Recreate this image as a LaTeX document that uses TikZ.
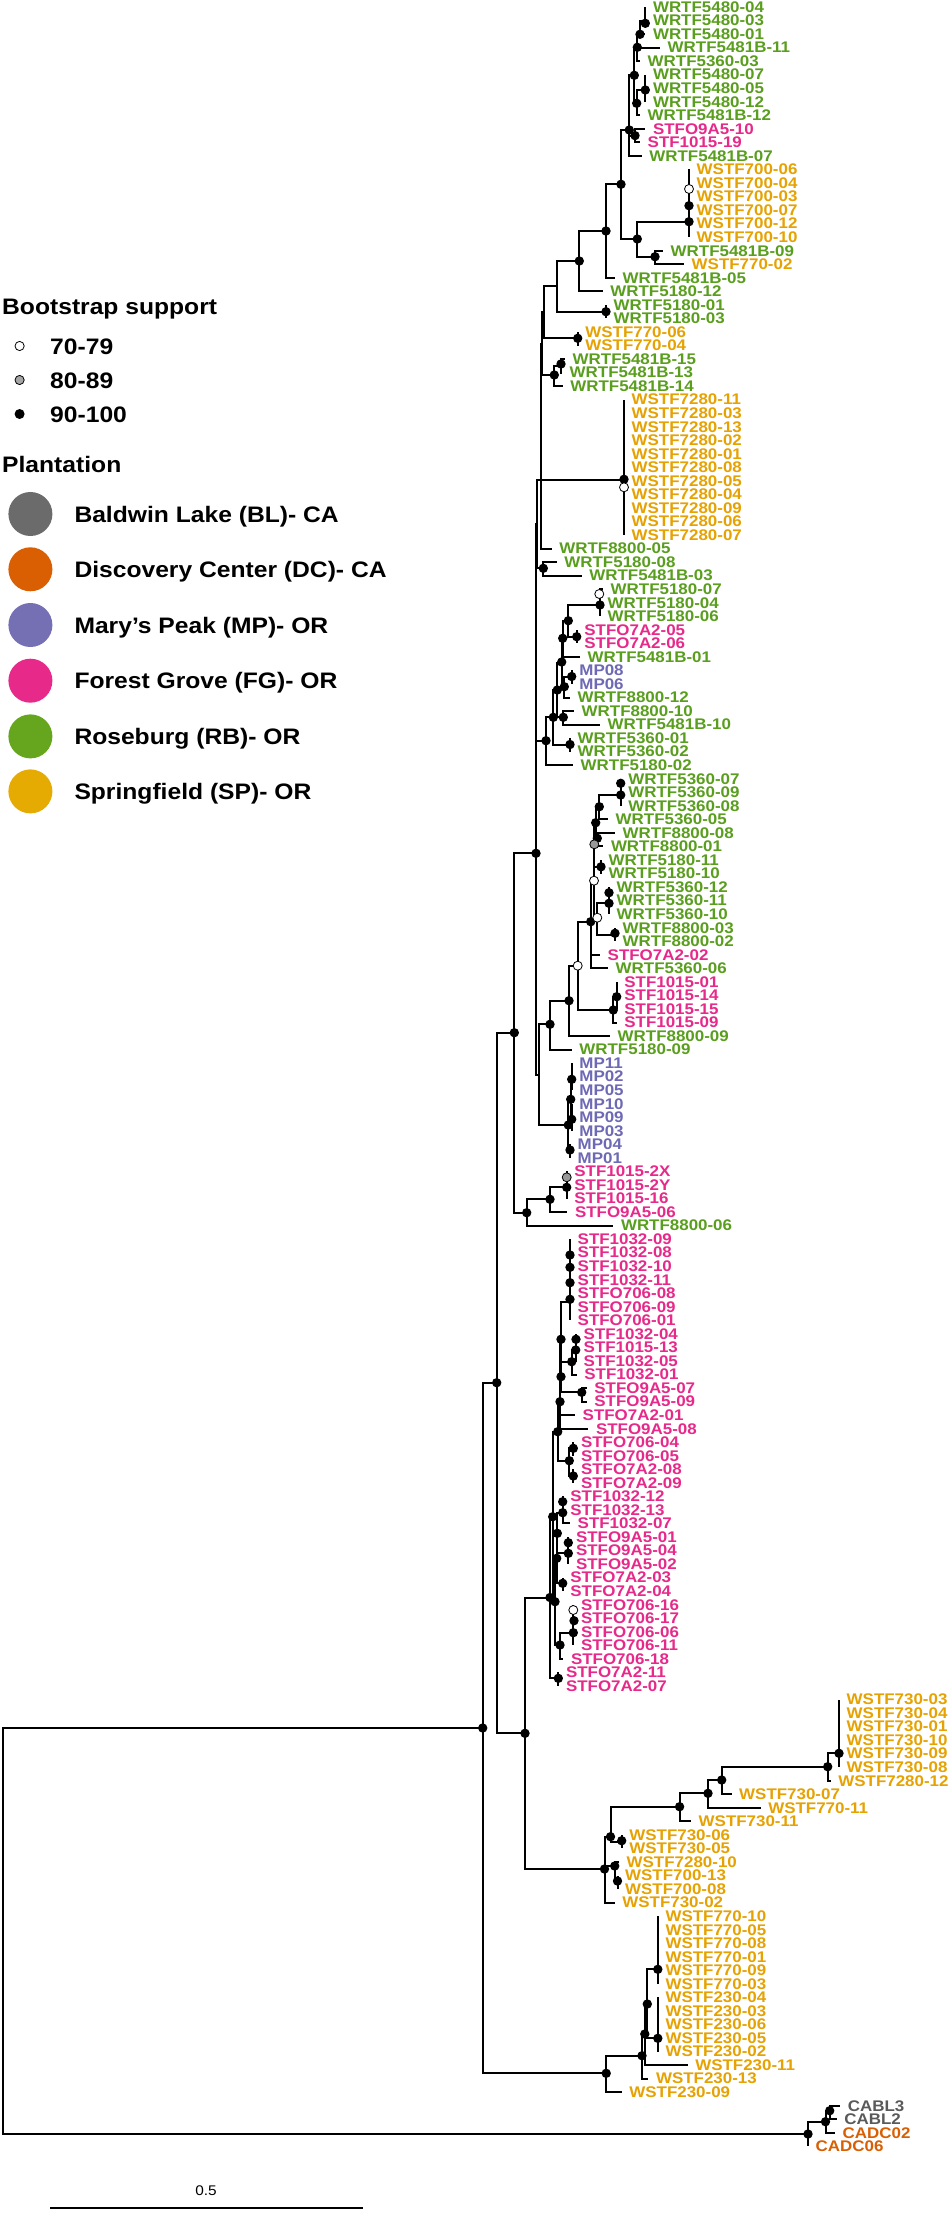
\documentclass[tikz,border=0pt]{standalone}
\usepackage{fontspec}
\setmainfont{Liberation Sans}[FakeStretch=1.1]
\definecolor{cG}{HTML}{5A9E1E}
\definecolor{cK}{HTML}{E7298A}
\definecolor{cS}{HTML}{E6A202}
\definecolor{cM}{HTML}{6E69B5}
\definecolor{cL}{HTML}{5A5A5A}
\definecolor{cD}{HTML}{D95F02}
\definecolor{fBL}{HTML}{6B6B6B}
\definecolor{fDC}{HTML}{D95F02}
\definecolor{fMP}{HTML}{7570B3}
\definecolor{fFG}{HTML}{E7298A}
\definecolor{fRB}{HTML}{66A61E}
\definecolor{fSP}{HTML}{E6AB02}
\newcommand\El[4]{\draw[br] (#1,#2) |- (#3,#4);}
\newcommand\Et[4]{\pgfmathsetmacro\tyv{7+(#3-1)*13.54}\draw[br] (#1,#2) |- (#4,\tyv);}
\newcommand\Bdot[2]{\fill[black] (#1,#2) circle[radius=4.7pt];}
\newcommand\Wdot[2]{\filldraw[fill=white,draw=black,line width=0.8pt] (#1,#2) circle[radius=4.5pt];}
\newcommand\Gdot[2]{\filldraw[fill=black!40,draw=black,line width=0.8pt] (#1,#2) circle[radius=4.5pt];}
\begin{document}
\begin{tikzpicture}[x=1pt,y=-1pt,
  br/.style={line width=2pt,line cap=butt,line join=miter},
  tiplab/.style={anchor=west,inner sep=0pt,font=\bfseries\fontsize{15.4}{16}\selectfont},
  lgt/.style={anchor=base west,inner sep=0pt,font=\bfseries\fontsize{22.4}{24}\selectfont}]
\fill[white] (0,0) rectangle (950,2229);
\useasboundingbox (0,0) rectangle (950,2229);
% ---------- root and backbone
\El{3}{1931}{482.7}{1728}
\El{3}{1931}{808}{2134}
\El{482.7}{1728}{496.7}{1382.7}
\El{482.7}{1728}{606.2}{2073.3}
\El{496.7}{1382.7}{514.3}{1032.7}
\El{496.7}{1382.7}{525}{1733.3}
\El{514.3}{1032.7}{536}{853.3}
\El{514.3}{1032.7}{526.7}{1212.7}
\El{536}{853.3}{536}{632.5}
\El{536}{853.3}{539}{1075}
\El{536}{632.5}{537.3}{524.2}
\El{536}{632.5}{546}{740.7}
\El{537.3}{524.2}{540.7}{480.2}
\El{537.3}{524.2}{543.3}{568.3}
\El{540.7}{480.2}{541}{411.8}
\Et{540.7}{480.2}{41}{551.7}
\El{541}{411.8}{541.7}{343.5}
\El{541}{411.8}{624}{480}
\El{541.7}{343.5}{544.3}{312}
\El{541.7}{343.5}{554.3}{375}
% ---------- top clade
\El{544.3}{312}{557.3}{286}
\El{544.3}{312}{577.7}{338.3}
\Et{577.7}{338.3}{25}{577.7}\Et{577.7}{338.3}{26}{577.7}
\El{557.3}{286}{579.3}{261}
\El{557.3}{286}{606}{311.7}
\Et{606}{311.7}{23}{606}\Et{606}{311.7}{24}{606}
\El{579.3}{261}{606}{231}
\Et{579.3}{261}{22}{602.7}
\El{606}{231}{621}{184.3}
\Et{606}{231}{21}{615}
\El{621}{184.3}{629.3}{130}
\El{621}{184.3}{637.3}{239}
\El{637.3}{239}{689}{221.7}
\El{637.3}{239}{655}{256.7}
\Et{655}{256.7}{19}{663}\Et{655}{256.7}{20}{684}
\foreach \i in {13,...,18}{\Et{689}{221.7}{\i}{689}}
\El{629.3}{130}{634.3}{75.3}
\El{629.3}{130}{635}{135.6}
\Et{629.3}{130}{12}{641.7}
\Et{635}{135.6}{10}{645.3}\Et{635}{135.6}{11}{640}
\El{634.3}{75.3}{637.3}{47.3}
\El{634.3}{75.3}{636.7}{103.3}
\El{636.7}{103.3}{645.3}{90}
\Et{636.7}{103.3}{9}{640}
\Et{645.3}{90}{6}{645.3}\Et{645.3}{90}{7}{645.3}\Et{645.3}{90}{8}{645.3}
\El{637.3}{47.3}{640}{34.3}
\Et{637.3}{47.3}{4}{660}\Et{637.3}{47.3}{5}{640}
\El{640}{34.3}{645.3}{21}
\Et{640}{34.3}{3}{645.3}
\Et{645.3}{21}{1}{645.3}\Et{645.3}{21}{2}{645.3}
\El{554.3}{375}{561}{365.8}
\Et{554.3}{375}{29}{562.7}
\Et{561}{365.8}{27}{565}\Et{561}{365.8}{28}{562}
\foreach \i in {30,...,40}{\Et{624}{480}{\i}{624}}
\Et{543.3}{568.3}{42}{556.7}\Et{543.3}{568.3}{43}{581.7}
% ---------- tips 44-57
\El{546}{740.7}{553.3}{717.3}
\Et{546}{740.7}{57}{573}
\El{553.3}{717.3}{557.3}{690}
\El{553.3}{717.3}{570}{744.9}
\Et{570}{744.9}{55}{570}\Et{570}{744.9}{56}{570}
\El{557.3}{690}{561.7}{662.5}
\El{557.3}{690}{563.3}{717.3}
\Et{563.3}{717.3}{53}{574}\Et{563.3}{717.3}{54}{600}
\El{561.7}{662.5}{562.7}{638.3}
\El{561.7}{662.5}{564.3}{686.7}
\El{564.3}{686.7}{571.7}{677.2}
\Et{564.3}{686.7}{52}{570}
\Et{571.7}{677.2}{50}{571.7}\Et{571.7}{677.2}{51}{571.7}
\El{562.7}{638.3}{568.3}{620.7}
\Et{562.7}{638.3}{49}{580}
\El{568.3}{620.7}{600}{605}
\El{568.3}{620.7}{576.7}{636.6}
\Et{576.7}{636.6}{47}{576.7}\Et{576.7}{636.6}{48}{576.7}
\El{600}{605}{600}{596}
\Et{600}{605}{46}{600}
\Et{600}{596}{44}{603}\Et{600}{596}{45}{600}
% ---------- tips 58-86
\El{539}{1075}{550}{1024.3}
\El{539}{1075}{568.3}{1125}
\El{550}{1024.3}{569}{1000.7}
\Et{550}{1024.3}{78}{571.7}
\El{569}{1000.7}{577.7}{965.7}
\Et{569}{1000.7}{77}{610}
\El{577.7}{965.7}{590.7}{921.7}
\El{577.7}{965.7}{613.3}{1010}
\El{613.3}{1010}{616.7}{996.7}
\Et{613.3}{1010}{76}{616.7}
\Et{616.7}{996.7}{73}{616.7}\Et{616.7}{996.7}{74}{616.7}\Et{616.7}{996.7}{75}{616.7}
\El{590.7}{921.7}{594}{880.7}
\Et{590.7}{921.7}{71}{600}\Et{590.7}{921.7}{72}{608}
\El{594}{880.7}{594.3}{844.3}
\El{594}{880.7}{597.3}{917.7}
\El{597.3}{917.7}{609}{903.3}
\El{597.3}{917.7}{615}{934.5}
\Et{615}{934.5}{69}{615}\Et{615}{934.5}{70}{615}
\Et{609}{903.3}{66}{609}\Et{609}{903.3}{67}{609}\Et{609}{903.3}{68}{609}
\El{594.3}{844.3}{595.7}{822.7}
\El{594.3}{844.3}{601}{866.8}
\Et{601}{866.8}{64}{601}\Et{601}{866.8}{65}{601}
\El{595.7}{822.7}{599.3}{806.7}
\El{595.7}{822.7}{597.3}{838.3}
\Et{597.3}{838.3}{62}{615}\Et{597.3}{838.3}{63}{603.3}
\Et{599.3}{806.7}{61}{608}
\El{599.3}{806.7}{620.7}{795}
\Et{620.7}{795}{58}{620.7}\Et{620.7}{795}{59}{620.7}\Et{620.7}{795}{60}{620.7}
\El{568.3}{1125}{570.7}{1099.3}
\El{568.3}{1125}{570}{1151}
\Et{570}{1151}{85}{570}\Et{570}{1151}{86}{570}
\El{570.7}{1099.3}{571.7}{1079.3}
\El{570.7}{1099.3}{571.7}{1119.3}
\foreach \i in {79,80,81}{\Et{571.7}{1079.3}{\i}{571.7}}
\foreach \i in {82,83,84}{\Et{571.7}{1119.3}{\i}{571.7}}
% ---------- tips 87-91
\El{526.7}{1212.7}{550}{1199.3}
\Et{526.7}{1212.7}{91}{613.3}
\El{550}{1199.3}{566.7}{1187.3}
\Et{550}{1199.3}{90}{567.3}
\foreach \i in {87,88,89}{\Et{566.7}{1187.3}{\i}{566.7}}
% ---------- pink clade
\El{525}{1733.3}{550}{1597.5}
\El{525}{1733.3}{604.5}{1869}
\El{550}{1597.5}{552.7}{1516.7}
\El{550}{1597.5}{558.3}{1678.3}
\Et{558.3}{1678.3}{124}{558.3}\Et{558.3}{1678.3}{125}{558.3}
\El{552.7}{1516.7}{557.7}{1431.7}
\El{552.7}{1516.7}{555}{1601.7}
\El{555}{1601.7}{556.7}{1558.3}
\El{555}{1601.7}{560}{1645}
\El{560}{1645}{573.3}{1632.7}
\Et{560}{1645}{123}{563.3}
\foreach \i in {119,...,122}{\Et{573.3}{1632.7}{\i}{573.3}}
\El{556.7}{1558.3}{557.3}{1533.3}
\El{556.7}{1558.3}{562.7}{1583.3}
\Et{562.7}{1583.3}{117}{562.7}\Et{562.7}{1583.3}{118}{562.7}
\El{557.3}{1533.3}{562.7}{1512.7}
\El{557.3}{1533.3}{568.3}{1553.3}
\foreach \i in {114,115,116}{\Et{568.3}{1553.3}{\i}{568.3}}
\Et{562.7}{1512.7}{111}{562.7}\Et{562.7}{1512.7}{112}{562.7}\Et{562.7}{1512.7}{113}{570}
\El{557.7}{1431.7}{560}{1401.7}
\El{557.7}{1431.7}{569.3}{1460.7}
\El{569.3}{1460.7}{573.3}{1448.3}
\El{569.3}{1460.7}{573.3}{1476}
\Et{573.3}{1448.3}{107}{573.3}\Et{573.3}{1448.3}{108}{573.3}
\Et{573.3}{1476}{109}{573.3}\Et{573.3}{1476}{110}{573.3}
\El{560}{1401.7}{561}{1339.3}
\Et{560}{1401.7}{105}{575}\Et{560}{1401.7}{106}{588.3}
\El{561}{1339.3}{570}{1301.7}
\El{561}{1339.3}{561}{1376.7}
\El{561}{1376.7}{571.7}{1361.7}
\El{561}{1376.7}{581.7}{1392.3}
\Et{581.7}{1392.3}{103}{586.7}\Et{581.7}{1392.3}{104}{586.7}
\El{571.7}{1361.7}{575.7}{1350}
\Et{571.7}{1361.7}{102}{576.7}
\El{575.7}{1350}{576}{1339.3}
\Et{575.7}{1350}{101}{576}
\Et{576}{1339.3}{99}{576}\Et{576}{1339.3}{100}{576}
\foreach \i in {92,...,98}{\Et{570}{1301.7}{\i}{570}}
% ---------- 730 clade
\El{604.5}{1869}{610.5}{1836.7}
\El{604.5}{1869}{614.7}{1866}
\Et{604.5}{1869}{141}{614.7}
\El{610.5}{1836.7}{679.6}{1806.7}
\El{610.5}{1836.7}{621.7}{1841.6}
\Et{621.7}{1841.6}{136}{621.7}\Et{621.7}{1841.6}{137}{621.7}
\Et{614.7}{1866}{138}{619}
\El{614.7}{1866}{617.5}{1882.3}
\Et{617.5}{1882.3}{139}{617.5}\Et{617.5}{1882.3}{140}{617.5}
\El{679.6}{1806.7}{708}{1793.3}
\Et{679.6}{1806.7}{135}{691}
\El{708}{1793.3}{721.7}{1780}
\Et{708}{1793.3}{134}{760.6}
\El{721.7}{1780}{827.7}{1766.7}
\Et{721.7}{1780}{133}{731.5}
\El{827.7}{1766.7}{839}{1753.3}
\Et{827.7}{1766.7}{132}{830.7}
\foreach \i in {126,...,131}{\Et{839}{1753.3}{\i}{839}}
% ---------- 770/230 clade
\El{606.2}{2073.3}{642}{2055.7}
\Et{606.2}{2073.3}{155}{621.7}
\El{642}{2055.7}{644.8}{2034}
\Et{642}{2055.7}{154}{648.3}
\El{644.8}{2034}{647.3}{2004}
\Et{644.8}{2034}{153}{687.6}
\El{647.3}{2004}{657.8}{1969.3}
\El{647.3}{2004}{657.8}{2038.3}
\foreach \i in {142,...,147}{\Et{657.8}{1969.3}{\i}{657.8}}
\foreach \i in {148,...,152}{\Et{657.8}{2038.3}{\i}{657.8}}
% ---------- outgroup
\El{808}{2134}{825.5}{2121.7}
\Et{808}{2134}{159}{808}
\El{825.5}{2121.7}{829.7}{2110.7}
\Et{825.5}{2121.7}{158}{835}
\Et{829.7}{2110.7}{156}{840.2}\Et{829.7}{2110.7}{157}{836.7}
% ---------- support dots
\foreach \x/\y in {482.7/1728,496.7/1382.7,514.3/1032.7,536/853.3,525/1733.3,606.2/2073.3,
 808/2134,825.5/2121.7,829.7/2110.7,642/2055.7,644.8/2034,647.3/2004,657.8/1969.3,657.8/2038.3,
 604.5/1869,610.5/1836.7,621.7/1840.7,614.7/1866,617.5/1881,679.6/1806.7,708/1793.3,721.7/1780,
 827.7/1766.7,839/1753.3,550/1597.5,558.3/1678.3,552.7/1516.7,555/1601.7,560/1645,573.3/1632.7,
 574/1620.7,556.7/1558.3,562.7/1583.3,557.3/1533.3,568.3/1553.3,568.3/1542.7,562.7/1512.7,
 562.7/1501.7,557.7/1431.7,569.3/1460.7,573.3/1448.3,573.3/1476,560/1401.7,561/1339.3,561/1376.7,
 581.7/1392.3,571.7/1361.7,575.7/1350,576/1339.3,570/1255,570/1267.3,570/1282.7,570/1299.3,
 526.7/1212.7,550/1199.3,566.7/1187.3,568.3/1125,570.7/1099.3,571.7/1079.3,571.7/1119.3,570/1150,
 550/1024.3,569/1000.7,613.3/1010,616.7/996.7,590.7/921.7,609/903.3,609/892.7,615/933.3,
 601/866.8,595.7/822.7,597.3/838.3,599.3/806.7,620.7/795,620.7/783.3,
 546/740.7,553.3/717.3,570/744.5,557.3/690,563.3/717.3,561.7/662,564.3/686.7,571.7/676.5,
 562.7/638.3,568.3/620.7,576.7/636.7,600/605,543.3/568.3,624/479.3,
 554.3/375,561/364,577.7/338.3,606/311.7,579.3/261,606/231,621/184.3,637.3/239,655/256.7,
 689/205.7,689/221.7,629.3/130,635/135.6,634.3/75.3,636.7/103.3,645.3/90,637.3/47.3,640/34.3,645.3/23.3}
 {\Bdot{\x}{\y}}
\foreach \x/\y in {573.3/1610,577.7/965.7,594/880.7,597.3/917.7,599.3/594,624/487.3,689/189}
 {\Wdot{\x}{\y}}
\foreach \x/\y in {566.7/1177.3,594.3/844.3}
 {\Gdot{\x}{\y}}
% ---------- tip labels
\foreach \i/\x/\c/\t in {
1/645.3/G/WRTF5480-04,2/645.3/G/WRTF5480-03,3/645.3/G/WRTF5480-01,4/660/G/WRTF5481B-11,
5/640/G/WRTF5360-03,6/645.3/G/WRTF5480-07,7/645.3/G/WRTF5480-05,8/645.3/G/WRTF5480-12,
9/640/G/WRTF5481B-12,10/645.3/K/STFO9A5-10,11/640/K/STF1015-19,12/641.7/G/WRTF5481B-07,
13/689/S/WSTF700-06,14/689/S/WSTF700-04,15/689/S/WSTF700-03,16/689/S/WSTF700-07,
17/689/S/WSTF700-12,18/689/S/WSTF700-10,19/663/G/WRTF5481B-09,20/684/S/WSTF770-02,
21/615/G/WRTF5481B-05,22/602.7/G/WRTF5180-12,23/606/G/WRTF5180-01,24/606/G/WRTF5180-03,
25/577.7/S/WSTF770-06,26/577.7/S/WSTF770-04,27/565/G/WRTF5481B-15,28/562/G/WRTF5481B-13,
29/562.7/G/WRTF5481B-14,30/624/S/WSTF7280-11,31/624/S/WSTF7280-03,32/624/S/WSTF7280-13,
33/624/S/WSTF7280-02,34/624/S/WSTF7280-01,35/624/S/WSTF7280-08,36/624/S/WSTF7280-05,
37/624/S/WSTF7280-04,38/624/S/WSTF7280-09,39/624/S/WSTF7280-06,40/624/S/WSTF7280-07,
41/551.7/G/WRTF8800-05,42/556.7/G/WRTF5180-08,43/581.7/G/WRTF5481B-03,44/603/G/WRTF5180-07,
45/600/G/WRTF5180-04,46/600/G/WRTF5180-06,47/576.7/K/STFO7A2-05,48/576.7/K/STFO7A2-06,
49/580/G/WRTF5481B-01,50/571.7/M/MP08,51/571.7/M/MP06,52/570/G/WRTF8800-12,
53/574/G/WRTF8800-10,54/600/G/WRTF5481B-10,55/570/G/WRTF5360-01,56/570/G/WRTF5360-02,
57/573/G/WRTF5180-02,58/620.7/G/WRTF5360-07,59/620.7/G/WRTF5360-09,60/620.7/G/WRTF5360-08,
61/608/G/WRTF5360-05,62/615/G/WRTF8800-08,63/603.3/G/WRTF8800-01,64/601/G/WRTF5180-11,
65/601/G/WRTF5180-10,66/609/G/WRTF5360-12,67/609/G/WRTF5360-11,68/609/G/WRTF5360-10,
69/615/G/WRTF8800-03,70/615/G/WRTF8800-02,71/600/K/STFO7A2-02,72/608/G/WRTF5360-06,
73/616.7/K/STF1015-01,74/616.7/K/STF1015-14,75/616.7/K/STF1015-15,76/616.7/K/STF1015-09,
77/610/G/WRTF8800-09,78/571.7/G/WRTF5180-09,79/571.7/M/MP11,80/571.7/M/MP02,
81/571.7/M/MP05,82/571.7/M/MP10,83/571.7/M/MP09,84/571.7/M/MP03,85/570/M/MP04,86/570/M/MP01,
87/566.7/K/STF1015-2X,88/566.7/K/STF1015-2Y,89/566.7/K/STF1015-16,90/567.3/K/STFO9A5-06,
91/613.3/G/WRTF8800-06,92/570/K/STF1032-09,93/570/K/STF1032-08,94/570/K/STF1032-10,
95/570/K/STF1032-11,96/570/K/STFO706-08,97/570/K/STFO706-09,98/570/K/STFO706-01,
99/576/K/STF1032-04,100/576/K/STF1015-13,101/576/K/STF1032-05,102/576.7/K/STF1032-01,
103/586.7/K/STFO9A5-07,104/586.7/K/STFO9A5-09,105/575/K/STFO7A2-01,106/588.3/K/STFO9A5-08,
107/573.3/K/STFO706-04,108/573.3/K/STFO706-05,109/573.3/K/STFO7A2-08,110/573.3/K/STFO7A2-09,
111/562.7/K/STF1032-12,112/562.7/K/STF1032-13,113/570/K/STF1032-07,114/568.3/K/STFO9A5-01,
115/568.3/K/STFO9A5-04,116/568.3/K/STFO9A5-02,117/562.7/K/STFO7A2-03,118/562.7/K/STFO7A2-04,
119/573.3/K/STFO706-16,120/573.3/K/STFO706-17,121/573.3/K/STFO706-06,122/573.3/K/STFO706-11,
123/563.3/K/STFO706-18,124/558.3/K/STFO7A2-11,125/558.3/K/STFO7A2-07,
126/839/S/WSTF730-03,127/839/S/WSTF730-04,128/839/S/WSTF730-01,129/839/S/WSTF730-10,
130/839/S/WSTF730-09,131/839/S/WSTF730-08,132/830.7/S/WSTF7280-12,133/731.5/S/WSTF730-07,
134/760.6/S/WSTF770-11,135/691/S/WSTF730-11,136/621.7/S/WSTF730-06,137/621.7/S/WSTF730-05,
138/619/S/WSTF7280-10,139/617.5/S/WSTF700-13,140/617.5/S/WSTF700-08,141/614.7/S/WSTF730-02,
142/657.8/S/WSTF770-10,143/657.8/S/WSTF770-05,144/657.8/S/WSTF770-08,145/657.8/S/WSTF770-01,
146/657.8/S/WSTF770-09,147/657.8/S/WSTF770-03,148/657.8/S/WSTF230-04,149/657.8/S/WSTF230-03,
150/657.8/S/WSTF230-06,151/657.8/S/WSTF230-05,152/657.8/S/WSTF230-02,153/687.6/S/WSTF230-11,
154/648.3/S/WSTF230-13,155/621.7/S/WSTF230-09,156/840.2/L/CABL3,157/836.7/L/CABL2,
158/835/D/CADC02,159/808/D/CADC06}
{\pgfmathsetmacro\tyv{7+(\i-1)*13.54}
 \node[tiplab,text=c\c] (t\i) at (\x+7.5,\tyv) {\t};}
% ---------- legend
\node[lgt] (lb) at (2,314.8) {Bootstrap support};
\filldraw[fill=white,draw=black,line width=0.8pt] (19.6,346) circle[radius=4.6pt];
\filldraw[fill=black!35,draw=black,line width=0.8pt] (19.6,380) circle[radius=4.6pt];
\fill[black] (19.6,414) circle[radius=5pt];
\node[lgt] (l1) at (50,354) {70-79};
\node[lgt] (l2) at (50,388) {80-89};
\node[lgt] (l3) at (50,422) {90-100};
\node[lgt] (lp) at (2,472.6) {Plantation};
\foreach \y/\c/\t in {514/fBL/Baldwin Lake (BL)- CA,569.3/fDC/Discovery Center (DC)- CA,
 625/fMP/Mary's Peak (MP)- OR,680.7/fFG/Forest Grove (FG)- OR,736.4/fRB/Roseburg (RB)- OR,
 791.4/fSP/Springfield (SP)- OR}
{\fill[\c] (30.4,\y) circle[radius=22pt];
 \node[lgt] at (74.3,\y+8) {\t};}
% ---------- scale bar
\draw[line width=1.2pt] (50,2208) -- (363,2208);
\node[inner sep=0pt,font=\fontsize{14}{15}\selectfont] (sb) at (206,2191) {0.5};
\end{tikzpicture}
\end{document}
